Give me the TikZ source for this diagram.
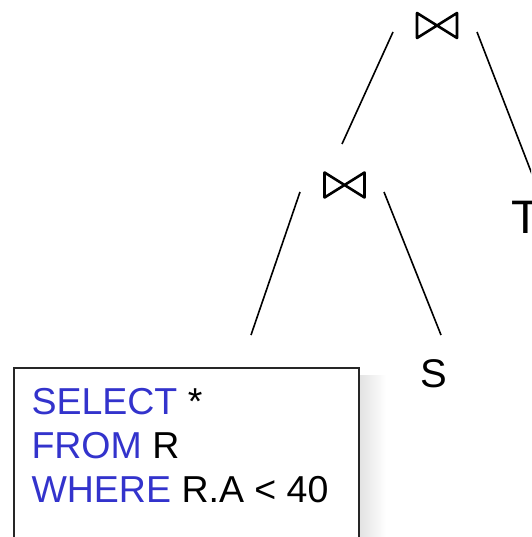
\documentclass[tikz,border=0pt]{standalone}
\usepackage{fontspec}
\setmainfont{Liberation Sans}
\usetikzlibrary{calc}
\definecolor{sqlblue}{RGB}{51,51,204}
\tikzset{
  joinop/.style={minimum width=40pt,minimum height=25pt,inner sep=0pt,outer sep=0pt},
  bowtie/.style={line width=2.6pt,line join=round},
  edge/.style={line width=1.6pt},
  rel/.style={inner sep=0pt,outer sep=0pt,anchor=base west},
  sqlkw/.style={inner sep=0pt,outer sep=0pt,anchor=base west,font=\fontsize{37.5}{44}\selectfont},
  querybox/.style={draw=black!85,line width=2pt,fill=white,minimum width=345pt,minimum height=200pt,anchor=north west,inner sep=0pt}
}
\begin{document}
\begin{tikzpicture}[x=1pt,y=-1pt]
\useasboundingbox (0,0) rectangle (531,537);
\clip (0,0) rectangle (531,537);
% shadow of the query box
\shade[left color=black!12,right color=white] (358,375) rectangle (386,560);
\node[querybox] (q) at (13,367) {};
\node[sqlkw] (l1) at (31.5,414) {\textcolor{sqlblue}{SELECT} *};
\node[sqlkw] (l2) at (31.5,458) {\textcolor{sqlblue}{FROM} R};
\node[sqlkw] (l3) at (31.5,502) {\textcolor{sqlblue}{WHERE} R.A < 40};
% join operators
\node[joinop] (j1) at (437,25.5) {};
\node[joinop] (j2) at (344.5,185) {};
\foreach \j in {j1,j2}{
  \draw[bowtie] (\j.north west) -- (\j.south east) -- (\j.north east) -- (\j.south west) -- cycle;
}
% relations
\node[rel,font=\fontsize{40}{48}\selectfont] (s) at (420,387) {S};
\node[rel,font=\fontsize{47}{56}\selectfont] (t) at (511.5,233) {T};
% connectors
\draw[edge] ($(j1.center)+(-44,6.5)$) -- ($(j2.center)+(-2.5,-41)$);
\draw[edge] ($(j1.center)+(40,6.5)$) -- ($(t.base west)+(22,-55)$);
\draw[edge] ($(j2.center)+(-44.5,7)$) -- ($(q.north)+(64.5,-32)$);
\draw[edge] ($(j2.center)+(39.5,7)$) -- ($(s.base west)+(21,-52)$);
\end{tikzpicture}
\end{document}
